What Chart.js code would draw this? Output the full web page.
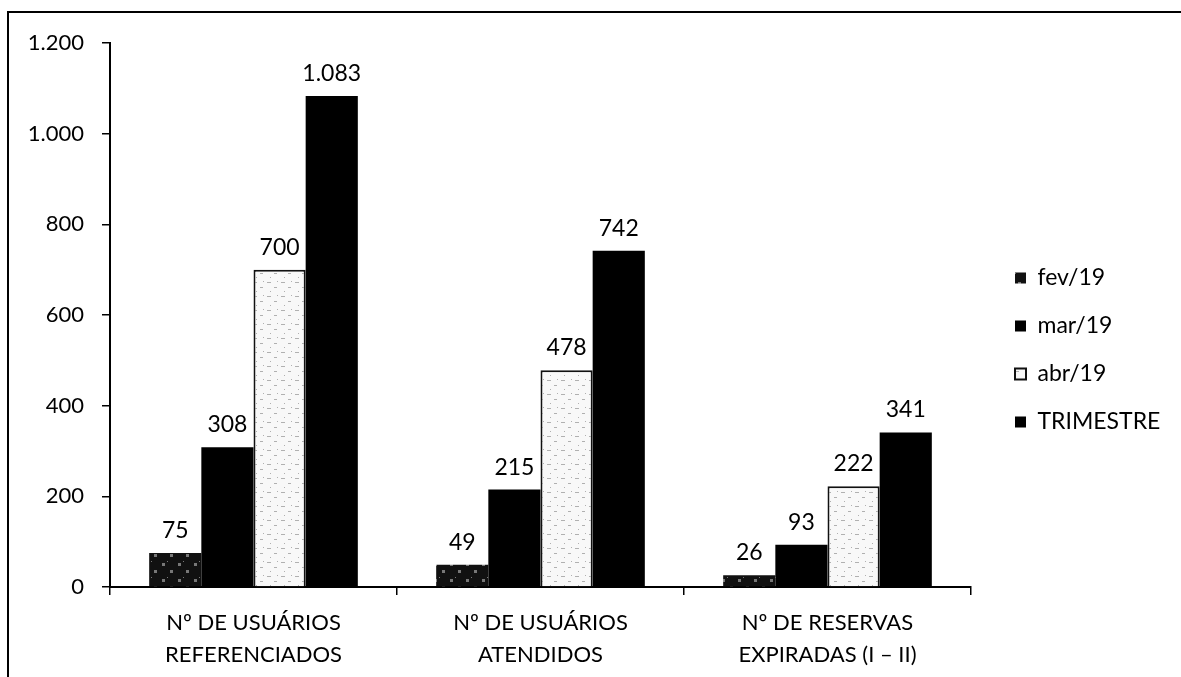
<!DOCTYPE html>
<html>
<head>
<meta charset="utf-8">
<script src="https://cdn.jsdelivr.net/npm/chart.js@4"></script>
<style>
  html, body { margin: 0; padding: 0; background: #fff; overflow: hidden; }
  #frame { position: absolute; left: 7px; top: 11px; width: 1200px; height: 700px; border: 2px solid #000; }
  #wrap { position: absolute; left: 0; top: 0; width: 1181px; height: 677px; }
</style>
</head>
<body>
<div id="frame"></div>
<div id="wrap"><canvas id="chart" width="1181" height="677"></canvas></div>
<script>
// ── Data ──────────────────────────────────────────────────────────────────────
const categories = [
  ["Nº DE USUÁRIOS", "REFERENCIADOS"],
  ["Nº DE USUÁRIOS", "ATENDIDOS"],
  ["Nº DE RESERVAS", "EXPIRADAS (I – II)"],
];
const seriesNames = ["fev/19", "mar/19", "abr/19", "TRIMESTRE"];
const fev       = [75, 49, 26];
const mar       = [308, 215, 93];
const abr       = [700, 478, 222];
const trimestre = [1083, 742, 341];
const yTicks    = [0, 200, 400, 600, 800, 1000, 1200];

const FONT = "Lato, 'Open Sans', sans-serif";
const PLOT_RIGHT = 971;

// pt-BR thousands separator
function fmt(v) { return String(v).replace(/\B(?=(\d{3})+(?!\d))/g, "."); }

// ── Fill textures (scanned look) ─────────────────────────────────────────────
function makePattern(size, bg, fg, dots) {
  const c = document.createElement("canvas");
  c.width = size; c.height = size;
  const g = c.getContext("2d");
  g.fillStyle = bg; g.fillRect(0, 0, size, size);
  g.fillStyle = fg;
  dots.forEach(([x, y, w, h]) => g.fillRect(x, y, w, h));
  return g.createPattern(c, "repeat");
}
const fevFill = makePattern(16, "#111", "#777", [[2, 3, 3, 3], [10, 10, 3, 3], [7, 1, 1, 1]]);
const abrFill = makePattern(14, "#f8f8f8", "#b0b0b0", [[1, 2, 4, 1], [8, 7, 3, 1], [4, 11, 1, 1], [11, 1, 1, 1]]);

// ── Data labels above bars ───────────────────────────────────────────────────
const valueLabels = {
  id: "valueLabels",
  afterDatasetsDraw(chart) {
    const ctx = chart.ctx;
    ctx.save();
    ctx.font = `23px ${FONT}`;
    ctx.fillStyle = "#000";
    ctx.textAlign = "center";
    ctx.textBaseline = "alphabetic";
    chart.data.datasets.forEach((ds, i) => {
      chart.getDatasetMeta(i).data.forEach((bar, j) => {
        ctx.fillText(fmt(ds.data[j]), bar.x, bar.y - 15);
      });
    });
    ctx.restore();
  },
};

// Put the legend where the original sits (box at x≈1015, first row centred y≈278)
const legendPlace = {
  id: "legendPlace",
  afterLayout(chart) {
    const lg = chart.legend;
    const pad = lg.options.labels.padding;
    const fs = lg.options.labels.font.size;
    const dx = (1015 - pad) - lg.left;
    lg.left += dx; lg.right += dx;
    const colH = lg.columnSizes[0].height;
    const y0 = (lg.top + pad + lg.bottom - colH) / 2;
    const dy = (278 - fs / 2) - y0;
    lg.top += dy; lg.bottom += dy;
  },
};

const chart = new Chart(document.getElementById("chart"), {
  type: "bar",
  data: {
    labels: categories,
    datasets: [
      { label: seriesNames[0], data: fev,       backgroundColor: fevFill, borderWidth: 0 },
      { label: seriesNames[1], data: mar,       backgroundColor: "#000",  borderWidth: 0 },
      { label: seriesNames[2], data: abr,       backgroundColor: abrFill, borderColor: "#111", borderWidth: 2 },
      { label: seriesNames[3], data: trimestre, backgroundColor: "#000",  borderWidth: 0 },
    ],
  },
  options: {
    responsive: false,
    animation: false,
    barPercentage: 1,
    categoryPercentage: 0.727,
    layout: { padding: { left: 8, top: 43, right: 40, bottom: 6 } },
    scales: {
      x: {
        afterFit(scale) { scale.height = 84; },
        border: { color: "#000", width: 2 },
        grid: { display: true, offset: true, drawOnChartArea: false, color: "#000", tickLength: 8, lineWidth: 1.5 },
        ticks: { color: "#000", padding: 12, font: { family: FONT, size: 22, lineHeight: "32px" }, maxRotation: 0 },
      },
      y: {
        min: 0, max: 1200,
        afterFit(scale) { scale.width = 102; },
        afterBuildTicks(scale) { scale.ticks = yTicks.map(v => ({ value: v })); },
        border: { color: "#000", width: 2 },
        grid: { display: true, drawOnChartArea: false, color: "#000", tickLength: 8, lineWidth: 1.5 },
        ticks: { color: "#000", padding: 18, font: { family: FONT, size: 22 }, callback: v => fmt(v) },
      },
    },
    plugins: {
      legend: {
        position: "right",
        labels: {
          color: "#000",
          boxWidth: 11, boxHeight: 11,
          padding: 25,
          font: { family: FONT, size: 23 },
        },
      },
      tooltip: { enabled: false },
    },
  },
  plugins: [valueLabels, legendPlace],
});

// Pin the plot's right edge to the original position
chart.options.layout.padding.right += chart.chartArea.right - PLOT_RIGHT;
chart.update();
</script>
</body>
</html>
